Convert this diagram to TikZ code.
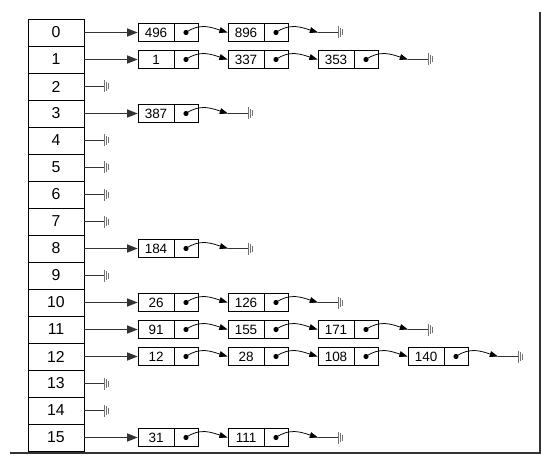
\documentclass[tikz,border=0pt]{standalone}
\usepackage{fontspec}
\setmainfont{Liberation Sans}
\usetikzlibrary{arrows.meta}
\begin{document}
\begin{tikzpicture}[x=0.03cm,y=-0.03cm]
	\tikzstyle{slot}=[draw,line width=0.7pt,minimum width=1.68cm,minimum height=0.81cm,inner sep=0,font=\fontsize{13.5}{15}\selectfont]
	\tikzstyle{key}=[draw,line width=0.7pt,minimum width=1.08cm,minimum height=0.54cm,inner sep=0,font=\fontsize{11.5}{13}\selectfont]
	\tikzstyle{ptr}=[draw,line width=0.7pt,minimum width=0.72cm,minimum height=0.54cm,inner sep=0,path picture={\fill (path picture bounding box.center) circle (2.2pt);}]
	\tikzstyle{link}=[draw,line width=0.75pt,black!80,-{Triangle[length=9pt,width=7pt]}]
	\tikzstyle{next}=[draw,line width=0.65pt,-{Triangle[length=7pt,width=5pt]}]
	\tikzstyle{stub}=[draw,line width=0.75pt,black!80]
	\tikzset{nullend/.pic={\draw[black!55,line width=0.8pt] (0,-6)--(0,6) (2,-4.5)--(2,4.5) (4,-3)--(4,3);}}
	\useasboundingbox (0,0) rectangle (541,456);
	% frame
	\draw[line width=1.5pt,black!80] (10,453) -- (540,453) -- (540,12);
	% hash table
	\foreach \i in {0,...,15}
		\node [slot] (r\i) at (56,32.5+27*\i) {\i};
	\foreach \i in {2,4,5,6,7,9,13,14} {
		\coordinate (z\i) at (104,32.5+27*\i);
		\path[stub] (r\i) -- (z\i);
		\pic at (z\i) {nullend};
	}
	% row 0
	\node [key] (k0a) at (156,32.5) {496}; \node [ptr] (p0a) at (186,32.5) {};
	\node [key] (k0b) at (246,32.5) {896}; \node [ptr] (p0b) at (276,32.5) {};
	\coordinate (e0) at (318,32.5); \coordinate (g0) at (338,32.5);
	\path[link] (r0) -- (k0a);
	\path[next] (p0a.center) .. controls +(14,-10) and +(-16,-5) .. (k0b.west);
	\path[next] (p0b.center) .. controls +(14,-10) and +(-16,-5) .. (e0);
	\path[stub] (e0) -- (g0); \pic at (g0) {nullend};
	% row 1
	\node [key] (k1a) at (156,59.5) {1}; \node [ptr] (p1a) at (186,59.5) {};
	\node [key] (k1b) at (246,59.5) {337}; \node [ptr] (p1b) at (276,59.5) {};
	\node [key] (k1c) at (336,59.5) {353}; \node [ptr] (p1c) at (366,59.5) {};
	\coordinate (e1) at (408,59.5); \coordinate (g1) at (428,59.5);
	\path[link] (r1) -- (k1a);
	\path[next] (p1a.center) .. controls +(14,-10) and +(-16,-5) .. (k1b.west);
	\path[next] (p1b.center) .. controls +(14,-10) and +(-16,-5) .. (k1c.west);
	\path[next] (p1c.center) .. controls +(14,-10) and +(-16,-5) .. (e1);
	\path[stub] (e1) -- (g1); \pic at (g1) {nullend};
	% row 3
	\node [key] (k3a) at (156,113.5) {387}; \node [ptr] (p3a) at (186,113.5) {};
	\coordinate (e3) at (228,113.5); \coordinate (g3) at (248,113.5);
	\path[link] (r3) -- (k3a);
	\path[next] (p3a.center) .. controls +(14,-10) and +(-16,-5) .. (e3);
	\path[stub] (e3) -- (g3); \pic at (g3) {nullend};
	% row 8
	\node [key] (k8a) at (156,248.5) {184}; \node [ptr] (p8a) at (186,248.5) {};
	\coordinate (e8) at (228,248.5); \coordinate (g8) at (248,248.5);
	\path[link] (r8) -- (k8a);
	\path[next] (p8a.center) .. controls +(14,-10) and +(-16,-5) .. (e8);
	\path[stub] (e8) -- (g8); \pic at (g8) {nullend};
	% row 10
	\node [key] (k10a) at (156,302.5) {26}; \node [ptr] (p10a) at (186,302.5) {};
	\node [key] (k10b) at (246,302.5) {126}; \node [ptr] (p10b) at (276,302.5) {};
	\coordinate (e10) at (318,302.5); \coordinate (g10) at (338,302.5);
	\path[link] (r10) -- (k10a);
	\path[next] (p10a.center) .. controls +(14,-10) and +(-16,-5) .. (k10b.west);
	\path[next] (p10b.center) .. controls +(14,-10) and +(-16,-5) .. (e10);
	\path[stub] (e10) -- (g10); \pic at (g10) {nullend};
	% row 11
	\node [key] (k11a) at (156,329.5) {91}; \node [ptr] (p11a) at (186,329.5) {};
	\node [key] (k11b) at (246,329.5) {155}; \node [ptr] (p11b) at (276,329.5) {};
	\node [key] (k11c) at (336,329.5) {171}; \node [ptr] (p11c) at (366,329.5) {};
	\coordinate (e11) at (408,329.5); \coordinate (g11) at (428,329.5);
	\path[link] (r11) -- (k11a);
	\path[next] (p11a.center) .. controls +(14,-10) and +(-16,-5) .. (k11b.west);
	\path[next] (p11b.center) .. controls +(14,-10) and +(-16,-5) .. (k11c.west);
	\path[next] (p11c.center) .. controls +(14,-10) and +(-16,-5) .. (e11);
	\path[stub] (e11) -- (g11); \pic at (g11) {nullend};
	% row 12
	\node [key] (k12a) at (156,356.5) {12}; \node [ptr] (p12a) at (186,356.5) {};
	\node [key] (k12b) at (246,356.5) {28}; \node [ptr] (p12b) at (276,356.5) {};
	\node [key] (k12c) at (336,356.5) {108}; \node [ptr] (p12c) at (366,356.5) {};
	\node [key] (k12d) at (426,356.5) {140}; \node [ptr] (p12d) at (456,356.5) {};
	\coordinate (e12) at (498,356.5); \coordinate (g12) at (518,356.5);
	\path[link] (r12) -- (k12a);
	\path[next] (p12a.center) .. controls +(14,-10) and +(-16,-5) .. (k12b.west);
	\path[next] (p12b.center) .. controls +(14,-10) and +(-16,-5) .. (k12c.west);
	\path[next] (p12c.center) .. controls +(14,-10) and +(-16,-5) .. (k12d.west);
	\path[next] (p12d.center) .. controls +(14,-10) and +(-16,-5) .. (e12);
	\path[stub] (e12) -- (g12); \pic at (g12) {nullend};
	% row 15
	\node [key] (k15a) at (156,437.5) {31}; \node [ptr] (p15a) at (186,437.5) {};
	\node [key] (k15b) at (246,437.5) {111}; \node [ptr] (p15b) at (276,437.5) {};
	\coordinate (e15) at (318,437.5); \coordinate (g15) at (338,437.5);
	\path[link] (r15) -- (k15a);
	\path[next] (p15a.center) .. controls +(14,-10) and +(-16,-5) .. (k15b.west);
	\path[next] (p15b.center) .. controls +(14,-10) and +(-16,-5) .. (e15);
	\path[stub] (e15) -- (g15); \pic at (g15) {nullend};
\end{tikzpicture}
\end{document}
